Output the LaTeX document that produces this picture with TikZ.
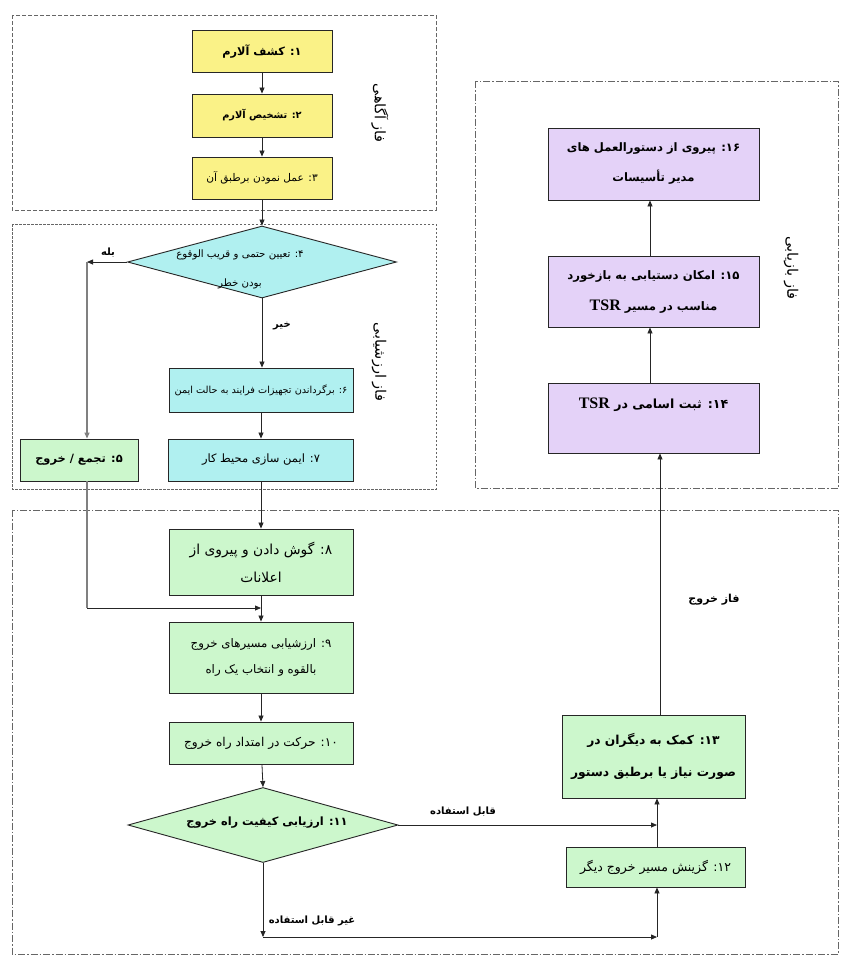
\documentclass[tikz,border=0pt]{standalone}
\usepackage{fontspec}
\setmainfont{Liberation Serif}
\newfontfamily\arabicfont[Script=Arabic]{DejaVu Sans}
\TeXXeTstate=1
\usetikzlibrary{arrows.meta,shapes.geometric}
\newcommand\RL[1]{\beginR #1\endR}
\newcommand\LN[1]{\beginL #1\endL{}}
\newcommand\fsz[1]{\fontsize{#1}{#1}\selectfont}
\newcommand\fsl[2]{\fontsize{#1}{#2}\selectfont}
\definecolor{yel}{RGB}{250,242,135}
\definecolor{cya}{RGB}{176,240,240}
\definecolor{grn}{RGB}{204,247,204}
\definecolor{pur}{RGB}{228,210,248}
\tikzset{
  box/.style={draw=black!85, line width=0.9pt, rectangle, inner sep=0pt, align=center, font=\arabicfont},
  dia/.style={draw=black!85, line width=0.9pt, diamond, inner sep=0pt, aspect=3.7},
  arr/.style={-{Triangle[length=6pt,width=5pt]}, line width=0.8pt, draw=black!85},
  garr/.style={-{Triangle[length=6pt,width=5pt]}, line width=1.2pt, draw=black!50},
  gline/.style={line width=1.2pt, draw=black!50},
  lbl/.style={font=\arabicfont\bfseries\fsz{10}, inner sep=1pt},
  phlbl/.style={font=\arabicfont\fsz{14.5}, rotate=-90, inner sep=0pt},
  phA/.style={draw=black!60, line width=0.9pt, dash pattern=on 4pt off 2pt},
  phB/.style={draw=black!60, line width=0.9pt, dash pattern=on 2.5pt off 1.5pt},
  phC/.style={draw=black!60, line width=0.9pt, dash pattern=on 7pt off 2pt on 1.5pt off 2pt}
}
\begin{document}
\begin{tikzpicture}[x=1pt,y=-1pt]
\useasboundingbox[fill=white] (0,0) rectangle (852,959);
% phase frames
\draw[phA] (12,15) rectangle (436,210);
\draw[phB] (12,224) rectangle (436,489);
\draw[phC] (475,81) rectangle (838,488);
\draw[phC] (12,510) rectangle (838,954);
% phase labels
\node[phlbl] (pA) at (380,113) {\RL{فاز آگاهی}};
\node[phlbl] (pB) at (379,362) {\RL{فاز ارزشیابی}};
\node[phlbl] (pC) at (791,268) {\RL{فاز بازیابی}};
\node[font=\arabicfont\bfseries\fsz{11}] (pD) at (714,600) {\RL{فاز خروج}};
% awareness
\node[box, fill=yel, minimum width=140pt, minimum height=42pt, font=\arabicfont\bfseries\fsz{11.3}] (b1) at (262,51.5) {\RL{\LN{۱}: کشف آلارم}};
\node[box, fill=yel, minimum width=140pt, minimum height=43pt, font=\arabicfont\bfseries\fsz{9.8}] (b2) at (262,115.5) {\RL{\LN{۲}: تشخیص آلارم}};
\node[box, fill=yel, minimum width=140pt, minimum height=42pt, font=\arabicfont\fsz{10.6}] (b3) at (262,178) {\RL{\LN{۳}: عمل نمودن برطبق آن}};
% evaluation
\node[dia, fill=cya, minimum width=269pt, minimum height=72pt] (d4) at (262,262) {};
\node[font=\arabicfont\fsl{10.2}{29}, align=center] (d4t) at (240,269) {\RL{\LN{۴}: تعیین حتمی و قریب الوقوع}\\\RL{بودن خطر}};
\node[box, fill=cya, minimum width=184pt, minimum height=44pt, font=\arabicfont\fsz{9.7}] (b6) at (261,390) {\RL{\LN{۶}: برگرداندن تجهیزات فرایند به حالت ایمن}};
\node[box, fill=cya, minimum width=185pt, minimum height=42pt, font=\arabicfont\fsz{11.5}] (b7) at (261,460) {\RL{\LN{۷}: ایمن سازی محیط کار}};
\node[box, fill=grn, minimum width=118pt, minimum height=42pt, font=\arabicfont\bfseries\fsz{11.4}] (b5) at (79,460) {\RL{\LN{۵}: تجمع / خروج}};
\coordinate (yes) at (87,262);
\draw[arr] (d4.west) -- (yes);
\draw[garr] (yes) -- (yes |- b5.north);
\node[lbl] (lyes) at (108,253) {\RL{بله}};
\draw[arr] (d4.south) -- (d4.south |- b6.north);
\node[lbl] (lno) at (282,326) {\RL{خیر}};
\draw[arr] (b1) -- (b2);
\draw[arr] (b2) -- (b3);
\draw[arr] (b3) -- (d4.north);
\draw[arr] (b6) -- (b7);
% exit
\node[box, fill=grn, minimum width=184pt, minimum height=66pt, font=\arabicfont\fsl{13.8}{28}] (b8) at (261,562) {\RL{\LN{۸}: گوش دادن و پیروی از}\\\RL{اعلانات}};
\node[box, fill=grn, minimum width=184pt, minimum height=71pt, font=\arabicfont\fsl{11.8}{26}] (b9) at (261,657.5) {\RL{\LN{۹}: ارزشیابی مسیرهای خروج}\\\RL{بالقوه و انتخاب یک راه}};
\node[box, fill=grn, minimum width=184pt, minimum height=42pt, font=\arabicfont\fsz{12.2}] (b10) at (261,743) {\RL{\LN{۱۰}: حرکت در امتداد راه خروج}};
\node[dia, fill=grn, minimum width=270pt, minimum height=75pt] (d11) at (263,825) {};
\node[font=\arabicfont\bfseries\fsz{11.4}] (d11t) at (267,823) {\RL{\LN{۱۱}: ارزیابی کیفیت راه خروج}};
\node[box, fill=grn, minimum width=179pt, minimum height=40pt, font=\arabicfont\fsz{12.5}] (b12) at (655.5,867) {\RL{\LN{۱۲}: گزینش مسیر خروج دیگر}};
\node[box, fill=grn, minimum width=183pt, minimum height=83pt, font=\arabicfont\bfseries\fsl{12.3}{32}] (b13) at (653.5,756.5) {\RL{\LN{۱۳}: کمک به دیگران در}\\\RL{صورت نیاز یا برطبق دستور}};
% recovery
\node[box, fill=pur, minimum width=211pt, minimum height=70pt] (b14) at (653.5,418) {};
\node[font=\arabicfont\bfseries\fsz{12.6}] (b14t) at (653.5,405) {\RL{\LN{۱۴}: ثبت اسامی در \LN{\rmfamily\fsz{16}TSR}}};
\node[box, fill=pur, minimum width=211pt, minimum height=71pt, font=\arabicfont\bfseries\fsl{11.7}{31}] (b15) at (653.5,291.5) {\RL{\LN{۱۵}: امکان دستیابی به بازخورد}\\\RL{مناسب در مسیر \LN{\rmfamily\fsz{16}TSR}}};
\node[box, fill=pur, minimum width=211pt, minimum height=72pt, font=\arabicfont\bfseries\fsl{11.6}{30}] (b16) at (653.5,164) {\RL{\LN{۱۶}: پیروی از دستورالعمل های}\\\RL{مدیر تأسیسات}};
% exit connectors
\draw[arr] (b7.south) -- (b7.south |- b8.north);
\coordinate (j5) at (87,608);
\coordinate (j9) at (261,608);
\draw[gline] (b5.south -| yes) -- (j5);
\draw[arr] (j5) -- (j9);
\draw[arr] (b8) -- (b9);
\draw[arr] (b9) -- (b10);
\draw[arr] (b10) -- (d11.north);
\coordinate (use) at (657,825);
\draw[arr] (d11.east) -- (use);
\node[lbl] (luse) at (463,812) {\RL{قابل استفاده}};
\coordinate (c1) at (263,937);
\coordinate (c2) at (657,937);
\draw[arr] (d11.south) -- (c1);
\draw[arr] (c1) -- (c2);
\draw[arr] (c2) -- (c2 |- b12.south);
\node[lbl] (lnouse) at (312,921) {\RL{غیر قابل استفاده}};
\draw[arr] (b12.north -| c2) -- (c2 |- b13.south);
\coordinate (c3) at (660,715);
\draw[arr] (c3) -- (c3 |- b14.south);
\coordinate (c4) at (650,0);
\draw[arr] (b14.north -| c4) -- (b15.south -| c4);
\draw[arr] (b15.north -| c4) -- (b16.south -| c4);
\end{tikzpicture}
\end{document}
